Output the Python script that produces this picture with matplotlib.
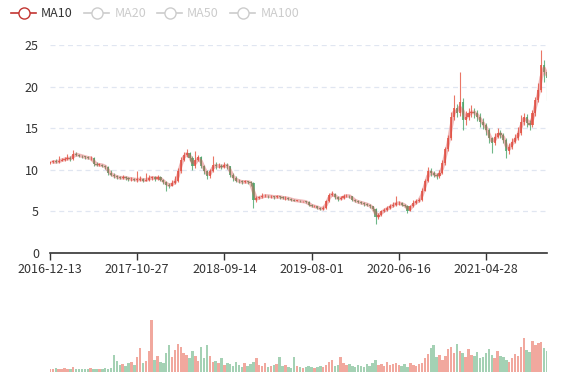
import numpy as np
import matplotlib
matplotlib.use("Agg")
import matplotlib.pyplot as plt
from matplotlib.lines import Line2D

plt.rcParams['font.family'] = ['Noto Sans CJK SC', 'DejaVu Sans']

# weekly-ish candles (about 6 trading days each)
tick_labels = ["2016-12-13", "2017-10-27", "2018-09-14", "2019-08-01", "2020-06-16", "2021-04-28"]
tick_index = [0, 30, 60, 90, 120, 150]

close = [
    10.9, 11.0, 10.9, 11.1, 11.2, 11.3, 11.4, 11.3,
    11.9, 11.8, 11.7, 11.6, 11.5, 11.4, 11.4, 10.7,
    10.6, 10.6, 10.5, 10.3,
    9.6, 9.4, 9.2, 9.1, 9.0, 9.1, 9.0, 8.9, 8.9, 8.8,
    8.8, 8.9, 8.7, 8.8, 9.0, 9.1, 8.9, 9.1, 8.8, 8.5,
    8.2, 8.1, 8.4, 8.6, 9.8, 11.2, 11.8, 12.0,
    11.4, 10.4, 11.2, 11.5, 10.5, 9.9, 9.2, 9.8,
    10.6, 10.4, 10.5, 10.3, 10.6, 10.4,
    9.4, 9.0, 8.7, 8.6, 8.5, 8.6, 8.5, 8.4,
    6.4, 6.6, 6.7, 6.8, 6.9,
    6.8, 6.8, 6.7, 6.8, 6.7, 6.6, 6.6, 6.5,
    6.4, 6.3, 6.3, 6.2, 6.2, 6.1, 5.8,
    5.6, 5.6, 5.4, 5.3, 5.4, 6.2, 7.0,
    7.1, 6.7, 6.5, 6.6, 6.8, 6.9, 6.8,
    6.4, 6.2, 6.1, 6.0, 5.9, 5.8, 5.6, 5.3,
    4.3, 4.6, 5.0, 5.2, 5.4, 5.6, 5.8, 6.0,
    6.0, 5.8, 5.7, 5.1, 5.6, 6.0, 6.2, 6.4,
    7.5, 8.6, 9.8, 9.6, 9.4, 9.2, 9.6, 10.8,
    12.5, 13.8, 16.4, 17.4, 16.8, 18.2, 16.0,
    16.4, 16.8, 17.0, 16.8, 16.4, 15.8, 15.4,
    14.8, 13.8, 13.2, 14.0, 14.4, 14.2, 13.6, 12.2,
    12.8, 13.4, 13.8, 14.4, 15.8, 16.4,
    15.6, 15.4, 16.8, 18.4, 19.6, 22.6, 21.8, 21.0,
]
first_open = 10.8

high = [
    11.1, 11.2, 11.3, 11.6, 11.4, 11.5, 11.9, 11.6, 12.4, 12.1,
    11.9, 11.8, 11.7, 11.6, 11.6, 11.5, 10.9, 10.8, 10.7, 10.6,
    10.4, 10.0, 9.6, 9.4, 9.3, 9.4, 9.2, 9.1, 9.1, 9.0,
    9.8, 9.2, 9.0, 9.6, 9.4, 9.3, 9.2, 9.4, 9.2, 8.9,
    8.6, 8.4, 8.8, 9.2, 10.2, 11.5, 12.1, 12.5, 12.1, 11.6,
    12.2, 11.8, 11.6, 10.6, 10.0, 10.1, 11.6, 10.9, 10.8, 10.7,
    10.9, 10.8, 10.5, 9.6, 9.2, 8.9, 8.8, 8.8, 8.7, 8.6,
    8.5, 6.9, 6.9, 7.2, 7.1, 7.0, 7.0, 6.9, 7.0, 6.9,
    6.8, 6.8, 6.7, 6.6, 6.5, 6.4, 6.4, 6.3, 6.3, 6.2,
    5.9, 5.8, 5.7, 5.5, 5.6, 6.4, 7.2, 7.4, 7.2, 6.8,
    6.9, 7.1, 7.1, 7.0, 6.9, 6.5, 6.4, 6.3, 6.1, 6.0,
    5.9, 5.7, 5.4, 4.8, 5.2, 5.4, 5.7, 5.9, 6.1, 6.8,
    6.3, 6.1, 5.9, 5.8, 5.8, 6.4, 6.5, 6.6, 7.8, 8.9,
    10.3, 10.2, 9.8, 9.6, 10.0, 11.2, 12.8, 14.2, 16.9, 19.0,
    17.9, 21.8, 18.6, 17.1, 17.4, 17.8, 17.4, 17.2, 16.8, 16.2,
    15.6, 15.0, 14.0, 14.4, 15.0, 14.8, 14.4, 13.8, 13.2, 13.8,
    14.3, 15.2, 16.6, 16.8, 16.7, 16.0, 17.2, 18.8, 20.4, 24.4,
    23.2, 22.0,
]

low = [
    10.7, 10.8, 10.8, 10.8, 11.0, 11.1, 11.2, 11.1, 11.2, 11.6,
    11.5, 11.4, 11.3, 11.3, 11.2, 10.5, 10.4, 10.4, 10.3, 10.1,
    9.4, 9.2, 9.0, 8.9, 8.9, 8.9, 8.8, 8.7, 8.7, 8.6,
    8.5, 8.6, 8.5, 8.6, 8.7, 8.8, 8.7, 8.8, 8.6, 8.3,
    7.4, 7.8, 8.0, 8.3, 8.5, 9.6, 11.0, 11.5, 11.0, 10.0,
    10.2, 11.0, 10.2, 9.5, 8.9, 9.0, 9.7, 10.1, 10.2, 10.1,
    10.2, 10.1, 9.1, 8.7, 8.5, 8.4, 8.3, 8.4, 8.3, 8.1,
    5.4, 6.1, 6.5, 6.6, 6.7, 6.6, 6.6, 6.5, 6.6, 6.5,
    6.5, 6.4, 6.4, 6.3, 6.2, 6.2, 6.1, 6.1, 6.0, 5.6,
    5.5, 5.5, 5.3, 5.2, 5.2, 5.3, 6.1, 6.9, 6.5, 6.3,
    6.4, 6.5, 6.7, 6.6, 6.3, 6.1, 6.0, 5.9, 5.7, 5.6,
    5.4, 5.0, 3.5, 4.1, 4.5, 4.9, 5.1, 5.3, 5.5, 5.7,
    5.8, 5.6, 5.5, 4.8, 5.0, 5.5, 5.9, 6.1, 6.3, 7.4,
    8.5, 9.3, 9.1, 8.9, 9.0, 9.5, 10.6, 12.3, 13.6, 16.0,
    16.3, 16.5, 14.8, 15.4, 16.0, 16.4, 16.2, 15.9, 15.2, 14.9,
    14.2, 13.2, 12.0, 13.0, 13.8, 13.8, 13.2, 11.4, 11.9, 12.5,
    13.2, 13.6, 14.2, 15.4, 15.1, 14.8, 15.2, 16.5, 18.1, 19.4,
    20.6, 18.4,
]

volume = [
    6, 5, 7, 5, 6, 8, 6, 5, 9, 6,
    5, 6, 5, 6, 7, 5, 6, 6, 5, 7,
    6, 8,
    33, 22, 14, 16, 12, 18, 20, 14,
    28, 46, 18, 22, 40, 100, 24, 30, 20, 18,
    36, 52, 28, 42, 54, 48, 36, 32, 26, 40,
    30, 22, 48, 26, 52, 30, 20, 22, 18, 26,
    14, 18, 16, 12, 20, 14, 10, 18, 12, 16,
    20, 26, 14, 12, 18, 10, 12, 14, 16, 28,
    12, 14, 10, 8, 28, 12, 10, 8, 9, 12,
    10, 8, 9, 12, 10, 14, 20, 24, 12, 14,
    28, 18, 14, 16, 12, 10, 14, 12, 10, 16,
    12, 18, 24, 14, 16, 12, 20, 14, 16, 18,
    14, 12, 16, 10, 18, 14, 12, 16, 18, 26,
    34, 46, 52, 28, 32, 24, 30, 44, 48, 36,
    54, 40, 36, 28, 44, 32, 30, 38, 26, 28,
    36, 44, 32, 26, 40, 30, 28, 24, 20, 26,
    34, 30, 48, 66, 42, 38, 60, 52, 56, 58,
    46, 40,
]

close = np.array(close)
opens = np.concatenate([[first_open], close[:-1]])
high = np.array(high)
low = np.array(low)
x = np.arange(len(close))
up = close >= opens

up_color = "#e5533f"
down_color = "#4aa56a"
cols = np.where(up, up_color, down_color)

# MA10 ~ 10 trading days, i.e. about 2 of these candles
ma = np.convolve(close, np.ones(2) / 2, mode="valid")
ma_x = x[1:]

fig = plt.figure(figsize=(5.77, 3.80), dpi=100)
ax = fig.add_axes([50/577, 1 - 253/380, 497/577, 208/380])
axv = fig.add_axes([50/577, 1 - 372/380, 497/577, 52/380])

# candles
ax.vlines(x, low, high, colors=cols, linewidth=0.8, alpha=0.8, zorder=2)
body = np.where(np.abs(close - opens) < 0.05, 0.05, close - opens)
ax.bar(x, body, bottom=opens, width=0.75, color=cols, alpha=0.8,
       linewidth=0, zorder=2)
ax.plot(ma_x, ma, color="#d94e4e", alpha=0.4, linewidth=2.6, zorder=3,
        solid_capstyle="round")

ax.set_xlim(0, len(close) - 1)
ax.set_ylim(0, 25)
ax.set_yticks([0, 5, 10, 15, 20, 25])
ax.yaxis.grid(True, color="#e0e6f1", linestyle=(0, (4, 3)), linewidth=0.9)
ax.set_axisbelow(True)
for s in ["top", "right", "left"]:
    ax.spines[s].set_visible(False)
ax.spines["bottom"].set_color("#333333")
ax.spines["bottom"].set_linewidth(1.2)
ax.set_xticks(tick_index)
ax.set_xticklabels(tick_labels)
ax.tick_params(axis="x", colors="#333333", labelcolor="#333333", length=5,
               width=1, labelsize=9, pad=2)
ax.tick_params(axis="y", length=0, labelcolor="#333333", labelsize=9, pad=8)

# volume
axv.bar(x, volume, width=0.85, color=cols, alpha=0.5, linewidth=0)
axv.set_xlim(0, len(close) - 1)
axv.set_ylim(0, 100)
axv.axis("off")

# legend
def legend_handle(c):
    return Line2D([], [], color=c, marker="o", markersize=8,
                  markerfacecolor="white", markeredgecolor=c, linewidth=1.2)

handles = [legend_handle("#c23531")] + [legend_handle("#cccccc")] * 3
leg = fig.legend(handles, ["MA10", "MA20", "MA50", "MA100"], loc="upper left",
                 bbox_to_anchor=(0.0, 1.01), ncol=4, frameon=False,
                 fontsize=9, handlelength=2.0, handletextpad=0.4,
                 columnspacing=0.9)
for t, c in zip(leg.get_texts(), ["#333333", "#cccccc", "#cccccc", "#cccccc"]):
    t.set_color(c)

fig.savefig("out.png", dpi=100)
